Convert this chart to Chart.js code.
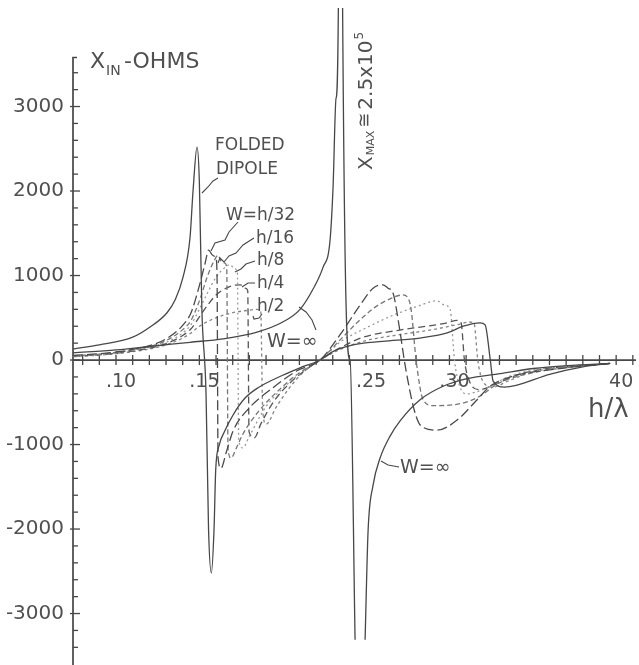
<!DOCTYPE html>
<html>
<head>
<meta charset="utf-8">
<script src="https://cdn.jsdelivr.net/npm/chart.js@4"></script>
<style>
  html, body { margin: 0; padding: 0; background: #fff; }
</style>
</head>
<body>
<canvas id="reactanceChart" width="639" height="665"></canvas>
<script>
// --- DATA (h/lambda vs X_in in ohms) ---
const foldedX = [0.0742, 0.09, 0.11, 0.1204, 0.1306, 0.1354, 0.1402, 0.1444, 0.1462, 0.1486, 0.1500, 0.1515, 0.1540, 0.1555, 0.1572, 0.1588, 0.1598, 0.1620, 0.1650, 0.1702, 0.1774, 0.1850, 0.2000, 0.2100, 0.2224, 0.2300, 0.2422, 0.2600, 0.2824, 0.2986, 0.3082, 0.3184, 0.3214, 0.3245, 0.3262, 0.3330, 0.3400, 0.3600, 0.3800, 0.3964];
const foldedY = [130, 180, 270, 390, 560, 710, 980, 1450, 2000, 2520, 2100, 600, -400, -2000, -2520, -2000, -1300, -1000, -850, -650, -450, -330, -180, -95, 0, 100, 180, 220, 260, 320, 400, 440, 415, 0, -250, -320, -300, -170, -80, -40];

const wInfX = [0.0742, 0.10, 0.12, 0.1444, 0.1642, 0.1846, 0.2000, 0.2104, 0.2182, 0.2242, 0.2284, 0.2302, 0.2320, 0.2335, 0.2352, 0.2358, 0.2404, 0.2434, 0.2464, 0.2494, 0.2512, 0.2542, 0.2584, 0.2644, 0.2704, 0.2824, 0.2962, 0.3106, 0.3304, 0.3502, 0.3706, 0.3964];
const wInfY = [85, 120, 160, 210, 250, 330, 450, 600, 840, 1100, 1420, 2050, 3100, 4500, 250000, 4500, 0, -3310, null, -3310, -2020, -1480, -1160, -900, -720, -470, -310, -220, -160, -100, -65, -40];

const h32X = [0.0742, 0.09, 0.10, 0.11, 0.12, 0.13, 0.14, 0.145, 0.150, 0.1535, 0.1555, 0.1580, 0.1600, 0.1606, 0.1612, 0.1630, 0.1660, 0.1702, 0.1798, 0.1940, 0.2083, 0.2224, 0.2344, 0.2464, 0.2542, 0.2600, 0.2632, 0.2662, 0.2700, 0.2734, 0.2790, 0.2830, 0.2926, 0.3046, 0.3166, 0.3244, 0.3400, 0.3586, 0.3800, 0.3964];
const h32Y = [55, 75, 95, 125, 170, 250, 410, 560, 880, 1150, 1300, 1240, 1200, 1000, -1150, -1280, -1100, -840, -570, -330, -130, 0, 300, 650, 850, 890, 850, 790, 380, -60, -600, -780, -830, -710, -470, -310, -180, -120, -70, -40];

const h16X = [0.0742, 0.09, 0.10, 0.11, 0.12, 0.13, 0.14, 0.145, 0.150, 0.155, 0.1590, 0.1612, 0.1630, 0.1650, 0.1664, 0.1672, 0.1690, 0.1720, 0.1760, 0.1850, 0.1980, 0.2100, 0.2224, 0.2350, 0.2450, 0.2550, 0.2650, 0.2720, 0.2750, 0.2770, 0.2800, 0.2842, 0.2902, 0.3080, 0.3180, 0.3300, 0.3500, 0.3750, 0.3964];
const h16Y = [50, 70, 90, 120, 160, 230, 360, 470, 700, 1000, 1180, 1240, 1170, 1150, 1100, -1050, -1160, -1050, -880, -620, -350, -150, 0, 250, 450, 620, 730, 770, 740, 600, 0, -470, -540, -510, -430, -270, -150, -80, -40];

const h8X = [0.0742, 0.09, 0.10, 0.11, 0.12, 0.13, 0.14, 0.145, 0.150, 0.155, 0.160, 0.165, 0.1685, 0.1710, 0.1728, 0.1736, 0.1760, 0.1800, 0.1900, 0.2020, 0.2130, 0.2224, 0.2350, 0.2500, 0.2650, 0.2800, 0.2925, 0.2970, 0.3004, 0.3030, 0.3060, 0.3100, 0.3200, 0.3350, 0.3500, 0.3964];
const h8Y = [50, 65, 85, 115, 150, 210, 320, 420, 600, 800, 980, 1090, 1130, 1080, 1050, -950, -1040, -900, -550, -300, -120, 0, 220, 380, 520, 630, 700, 650, 600, 0, -300, -400, -350, -200, -120, -40];

const h4X = [0.0742, 0.09, 0.10, 0.11, 0.12, 0.13, 0.14, 0.145, 0.150, 0.155, 0.160, 0.165, 0.170, 0.1747, 0.1775, 0.1790, 0.1798, 0.1830, 0.1870, 0.1950, 0.2050, 0.2150, 0.2224, 0.2350, 0.2482, 0.2704, 0.2986, 0.3046, 0.3070, 0.3090, 0.3120, 0.3180, 0.3280, 0.3450, 0.3964];
const h4Y = [45, 62, 80, 105, 140, 195, 290, 370, 510, 650, 770, 840, 880, 890, 850, 820, -850, -920, -750, -480, -260, -100, 0, 150, 270, 355, 440, 470, 440, 0, -250, -350, -280, -150, -40];

const h2X = [0.0742, 0.09, 0.10, 0.11, 0.12, 0.13, 0.14, 0.145, 0.150, 0.160, 0.170, 0.180, 0.1840, 0.1868, 0.1880, 0.1900, 0.1960, 0.2040, 0.2120, 0.2224, 0.2350, 0.2500, 0.2700, 0.2900, 0.3050, 0.3120, 0.3148, 0.3170, 0.3200, 0.3260, 0.3350, 0.3500, 0.3964];
const h2Y = [40, 58, 75, 100, 130, 180, 260, 320, 400, 500, 560, 590, 600, 580, -600, -760, -560, -330, -150, 0, 130, 230, 300, 360, 420, 450, 430, 0, -250, -320, -250, -140, -40];

const xTickValues = [0.10, 0.15, 0.25, 0.30, 0.40];
const xTickLabels = ['.10', '.15', '.25', '.30', '40'];
const yTickValues = [3000, 2000, 1000, 0, -1000, -2000, -3000];
const yTickLabels = ['3000', '2000', '1000', '0', '-1000', '-2000', '-3000'];

const X_MIN = 0.0742, X_MAX = 0.4119;
const Y_MIN = -3609, Y_MAX = 4166, Y_AXIS_TOP = 3580;
const INK = '#474747';
const TEXT = '#505050';

Chart.defaults.font.family = "'DejaVu Sans', sans-serif";

const pts = (xs, ys) => xs.map((x, i) => ({ x: x, y: ys[i] }));

function line(label, xs, ys, color, dash) {
  return {
    label: label,
    data: pts(xs, ys),
    borderColor: color,
    borderDash: dash,
    borderWidth: 1.3,
    pointRadius: 0,
    fill: false,
    spanGaps: false,
    cubicInterpolationMode: 'monotone'
  };
}

function polyline(ctx, p) {
  ctx.beginPath();
  ctx.moveTo(p[0][0], p[0][1]);
  for (let i = 1; i < p.length; i++) ctx.lineTo(p[i][0], p[i][1]);
  ctx.stroke();
}

// no extra room around the plot for edge labels
function noPadding(s) {
  s.paddingTop = 0;
  s.paddingBottom = 0;
  s.paddingLeft = 0;
  s.paddingRight = 0;
}

// axis lines, tick marks, labels and leaders
const decorations = {
  id: 'decorations',
  beforeDatasetsDraw(chart) {
    const { ctx, chartArea: a, scales: { x, y } } = chart;
    const y0 = y.getPixelForValue(0);
    ctx.save();
    ctx.strokeStyle = INK;
    ctx.lineWidth = 1.7;
    ctx.beginPath();
    ctx.moveTo(a.left + 4, y.getPixelForValue(Y_AXIS_TOP));
    ctx.lineTo(a.left, y.getPixelForValue(Y_AXIS_TOP));
    ctx.lineTo(a.left, a.bottom);
    ctx.moveTo(a.left, y0);
    ctx.lineTo(a.right, y0);
    ctx.stroke();
    ctx.lineWidth = 1.3;
    for (let v = -3400; v <= 3400; v += 200) {
      const py = y.getPixelForValue(v);
      const major = v % 1000 === 0;
      ctx.beginPath();
      ctx.moveTo(a.left - (major ? 3 : 0), py);
      ctx.lineTo(a.left + (major ? 7 : 5), py);
      ctx.stroke();
    }
    for (let k = 8; k <= 41; k++) {
      const px = x.getPixelForValue(k / 100);
      ctx.beginPath();
      ctx.moveTo(px, y0 - 5);
      ctx.lineTo(px, y0 + 5);
      ctx.stroke();
    }
    ctx.restore();
  },
  afterDatasetsDraw(chart) {
    const { ctx } = chart;
    ctx.save();
    ctx.fillStyle = TEXT;
    ctx.strokeStyle = INK;
    ctx.lineWidth = 1.1;
    ctx.textBaseline = 'alphabetic';
    const ff = "'DejaVu Sans', sans-serif";

    // axis titles
    ctx.font = '22px ' + ff;
    ctx.fillText('X', 90, 68);
    ctx.font = '14px ' + ff;
    ctx.fillText('IN', 106, 75);
    ctx.font = '22px ' + ff;
    ctx.fillText('-OHMS', 124, 68);
    ctx.font = '26px ' + ff;
    ctx.fillText('h/\u03bb', 588, 417);

    // curve labels
    ctx.font = '17px ' + ff;
    ctx.fillText('FOLDED', 215, 150);
    ctx.fillText('DIPOLE', 216, 174);
    ctx.fillText('W=h/32', 226, 220);
    ctx.fillText('h/16', 256, 243);
    ctx.fillText('h/8', 257, 265);
    ctx.fillText('h/4', 257, 288);
    ctx.fillText('h/2', 257, 311);
    ctx.font = '19px ' + ff;
    ctx.fillText('W=\u221e', 267, 347);
    ctx.fillText('W=\u221e', 400, 473);

    polyline(ctx, [[218, 178], [213, 181], [208, 187], [202, 193]]);
    polyline(ctx, [[238, 222], [229, 232], [225, 240], [215, 243], [211, 251]]);
    polyline(ctx, [[254, 238], [243, 245], [236, 253], [229, 256], [224, 262], [220, 258], [218, 263]]);
    polyline(ctx, [[255, 261], [246, 264], [241, 269], [235, 272]]);
    polyline(ctx, [[255, 283], [248, 283], [242, 287]]);
    polyline(ctx, [[262, 314], [259, 318], [254, 319], [253, 316]]);
    polyline(ctx, [[299, 307], [306, 312], [312, 320], [316, 330]]);
    polyline(ctx, [[381, 461], [388, 465], [399, 467]]);

    // rotated X_MAX note
    ctx.translate(372, 170);
    ctx.rotate(-Math.PI / 2);
    let cx = 0;
    const put = (t, size, dy) => {
      ctx.font = size + 'px ' + ff;
      ctx.fillText(t, cx, dy);
      cx += ctx.measureText(t).width + 1;
    };
    put('X', 20, 0);
    put('MAX', 11, 2);
    cx += 2;
    put('\u2245', 18, -2);
    cx += 2;
    put('2.5x10', 20, 0);
    put('5', 12, -9);
    ctx.restore();
  }
};

const ctx = document.getElementById('reactanceChart').getContext('2d');
new Chart(ctx, {
  type: 'line',
  data: {
    datasets: [
      line('Folded dipole', foldedX, foldedY, INK, []),
      line('W=\u221e', wInfX, wInfY, INK, []),
      line('W=h/32', h32X, h32Y, '#4a4a4a', [10, 4]),
      line('W=h/16', h16X, h16Y, '#767676', [5, 3]),
      line('W=h/8', h8X, h8Y, '#999999', [2, 3]),
      line('W=h/4', h4X, h4Y, '#555555', [7, 4]),
      line('W=h/2', h2X, h2Y, '#858585', [3, 3])
    ]
  },
  options: {
    responsive: false,
    animation: false,
    layout: { padding: { top: 8, right: 3, bottom: 0, left: 0 } },
    plugins: {
      legend: { display: false },
      tooltip: { enabled: false }
    },
    scales: {
      x: {
        type: 'linear',
        min: X_MIN,
        max: X_MAX,
        position: { y: 0 },
        grid: { display: false, drawTicks: false },
        border: { display: false },
        afterBuildTicks: (s) => { s.ticks = xTickValues.map(v => ({ value: v })); },
        afterFit: (s) => { s.height = 0; noPadding(s); },
        ticks: {
          autoSkip: false,
          maxRotation: 0,
          padding: 11,
          labelOffset: 5,
          color: TEXT,
          font: { size: 19 },
          callback: (v, i) => xTickLabels[i]
        }
      },
      y: {
        type: 'linear',
        min: Y_MIN,
        max: Y_MAX,
        position: 'left',
        grid: { display: false, drawTicks: false },
        border: { display: false },
        afterBuildTicks: (s) => { s.ticks = yTickValues.map(v => ({ value: v })); },
        afterFit: (s) => { s.width = 73; noPadding(s); },
        ticks: {
          autoSkip: false,
          padding: 9,
          color: TEXT,
          font: { size: 20 },
          callback: (v, i) => yTickLabels[i]
        }
      }
    }
  },
  plugins: [decorations]
});
</script>
</body>
</html>
